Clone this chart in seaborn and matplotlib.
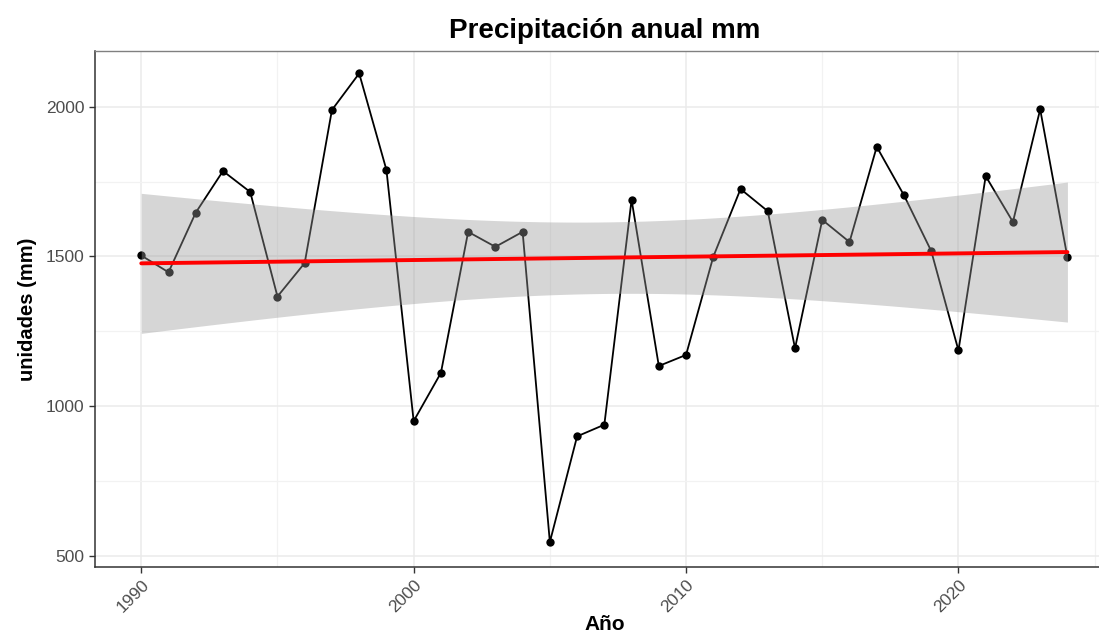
import seaborn as sns
import matplotlib.pyplot as plt
import numpy as np
import pandas as pd
from matplotlib.ticker import MultipleLocator

# Precipitación anual (mm)
anios = list(range(1990, 2025))
precipitacion = [
    1503, 1447, 1646, 1785, 1715, 1366, 1478, 1989, 2111, 1789,
    950, 1111, 1582, 1532, 1582, 546, 899, 938, 1689, 1134,
    1171, 1499, 1725, 1651, 1193, 1622, 1548, 1866, 1704, 1518,
    1186, 1768, 1615, 1991, 1497,
]

titulo = "Precipitación anual mm"
etiqueta_x = "Año"
etiqueta_y = "unidades (mm)"

df = pd.DataFrame({"anio": anios, "mm": precipitacion})

sns.set_theme(style="whitegrid")
plt.rcParams["font.family"] = ["Liberation Sans", "DejaVu Sans"]

fig = plt.figure(figsize=(10.99, 6.37), dpi=100)
ax = fig.add_axes([0.0864, 0.110, 0.927, 0.810])

# serie con puntos
sns.lineplot(data=df, x="anio", y="mm", color="black", linewidth=1.3,
             marker="o", markersize=6, markeredgewidth=0, ax=ax, zorder=2)

# tendencia lineal (como geom_smooth(method = "lm"))
sns.regplot(data=df, x="anio", y="mm", scatter=False, ci=None,
            color="red", line_kws={"linewidth": 2.8, "zorder": 4}, ax=ax)

# banda de confianza del 95 % (intervalo t analítico)
x = df["anio"].to_numpy(float)
y = df["mm"].to_numpy(float)
n = len(x)
b1, b0 = np.polyfit(x, y, 1)
resid = y - (b0 + b1 * x)
s = np.sqrt((resid ** 2).sum() / (n - 2))
sxx = ((x - x.mean()) ** 2).sum()
xs = np.linspace(x.min(), x.max(), 80)
se = s * np.sqrt(1 / n + (xs - x.mean()) ** 2 / sxx)
t_crit = 2.0345  # t(0.975, df = 33)
fit = b0 + b1 * xs
ax.fill_between(xs, fit - t_crit * se, fit + t_crit * se,
                color="#999999", alpha=0.4, linewidth=0, zorder=3)

ax.set_xlim(1988.3, 2025.7)
ax.set_ylim(463, 2186)
ax.xaxis.set_major_locator(MultipleLocator(10))
ax.xaxis.set_minor_locator(MultipleLocator(5))
ax.yaxis.set_major_locator(MultipleLocator(500))
ax.yaxis.set_minor_locator(MultipleLocator(250))

ax.grid(which="major", color="#EBEBEB", linewidth=1.1)
ax.grid(which="minor", color="#F2F2F2", linewidth=0.9)
ax.set_axisbelow(True)

ax.tick_params(which="major", length=4, width=1, color="#333333",
               labelsize=12.5, labelcolor="#4D4D4D", bottom=True, left=True)
ax.tick_params(which="minor", length=0)
plt.setp(ax.get_xticklabels(), rotation=45, ha="right", rotation_mode="anchor")

for side in ["left", "bottom"]:
    ax.spines[side].set_color("#333333")
    ax.spines[side].set_linewidth(1.1)
ax.spines["top"].set_color("#808080")
ax.spines["top"].set_linewidth(1.0)
ax.spines["right"].set_visible(False)

ax.set_title(titulo, fontsize=20, fontweight="bold", color="black", pad=9)
ax.set_xlabel(etiqueta_x, fontsize=15, fontweight="bold", color="black", labelpad=0)
ax.set_ylabel(etiqueta_y, fontsize=14.5, fontweight="bold", color="black", labelpad=6)

fig.savefig("out.png", dpi=100)
